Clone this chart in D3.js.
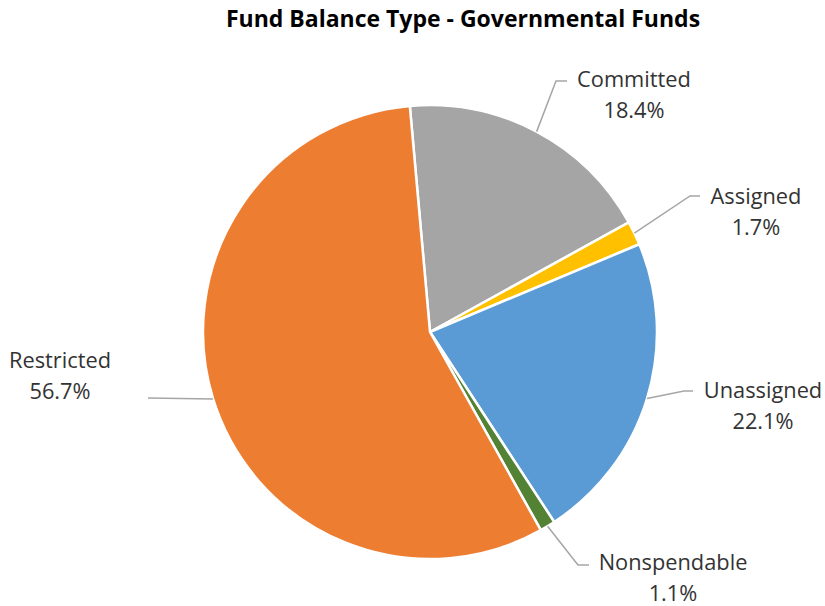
<!DOCTYPE html>
<html>
<head>
<meta charset="utf-8">
<script src="https://cdn.jsdelivr.net/npm/d3@7"></script>
<style>
  html, body { margin: 0; padding: 0; background: #fff; }
  svg { display: block; font-family: "Open Sans", "Noto Sans", sans-serif; }
</style>
</head>
<body>
<svg id="chart" width="825" height="606"></svg>
<script>
// Fund balance composition, percent of total
const categories = ["Committed", "Assigned", "Unassigned", "Nonspendable", "Restricted"];
const shares = [18.4, 1.7, 22.1, 1.1, 56.7];
const sliceColors = ["#A5A5A5", "#FFC000", "#5B9BD5", "#548235", "#ED7D31"];
const chartTitle = "Fund Balance Type - Governmental Funds";

const svg = d3.select("#chart");
const cx = 430, cy = 332, radius = 227;
const startDeg = -5.1;

svg.append("text")
  .attr("x", 463).attr("y", 27)
  .attr("text-anchor", "middle")
  .attr("font-size", 23).attr("font-weight", 700)
  .attr("fill", "#000")
  .text(chartTitle);

const data = categories.map((c, i) => ({ name: c, value: shares[i], color: sliceColors[i] }));

const pie = d3.pie()
  .value(d => d.value)
  .sort(null)
  .startAngle(startDeg * Math.PI / 180)
  .endAngle((startDeg + 360) * Math.PI / 180);

const arcs = pie(data);
const arc = d3.arc().innerRadius(0).outerRadius(radius);

const g = svg.append("g").attr("transform", `translate(${cx},${cy})`);

g.selectAll("path.slice")
  .data(arcs)
  .join("path")
  .attr("class", "slice")
  .attr("d", arc)
  .attr("fill", d => d.data.color)
  .attr("stroke", "#fff")
  .attr("stroke-width", 2.5)
  .attr("stroke-linejoin", "round");

// Label placement: text centre / first baseline, and leader elbow + end
const labelLayout = {
  "Committed":    { tx: 634, ty: 87,  elbow: [556, 81],  end: [567, 81] },
  "Assigned":     { tx: 756, ty: 204, elbow: [690, 196], end: [700, 196] },
  "Unassigned":   { tx: 763, ty: 398, elbow: [684, 391], end: [693, 391] },
  "Nonspendable": { tx: 673, ty: 570, elbow: [578, 565], end: [589, 565] },
  "Restricted":   { tx: 60,  ty: 368, elbow: null,       end: [148, 398] }
};

const leaders = svg.append("g");
const labels = svg.append("g");

arcs.forEach(a => {
  const mid = (a.startAngle + a.endAngle) / 2;
  const px = cx + radius * Math.sin(mid);
  const py = cy - radius * Math.cos(mid);
  const L = labelLayout[a.data.name];
  const pts = [[px, py]];
  if (L.elbow) pts.push(L.elbow);
  pts.push(L.end);
  leaders.append("path")
    .attr("d", d3.line()(pts))
    .attr("fill", "none")
    .attr("stroke", "#A6A6A6")
    .attr("stroke-width", 1.5);

  const t = labels.append("text")
    .attr("text-anchor", "middle")
    .attr("font-size", 21.8)
    .attr("fill", "#333333");
  t.append("tspan").attr("x", L.tx).attr("y", L.ty).text(a.data.name);
  t.append("tspan").attr("x", L.tx).attr("y", L.ty + 31).text(d3.format(".1f")(a.data.value) + "%");
});
</script>
</body>
</html>
